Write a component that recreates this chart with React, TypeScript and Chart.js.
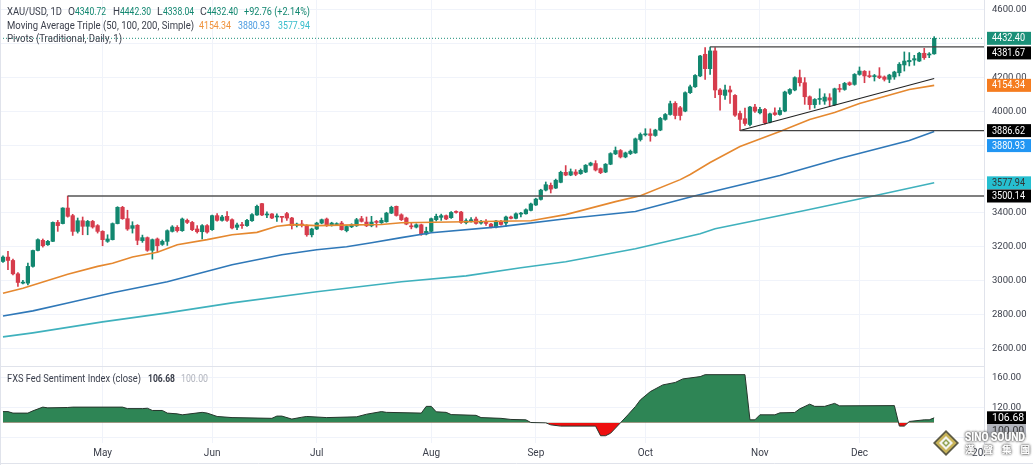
import { useEffect, useRef } from "react";
import { Chart, registerables } from "chart.js";

Chart.register(...registerables);

const FONT = 'Roboto, sans-serif';
const UP = "#12876f";
const DOWN = "#d63c4c";
const TEXT = "#3a3e4a";

// daily candles
const opens = [
  3113, 3139, 3119, 3040, 2985, 2985, 3084, 3178, 3238, 3212, 3232, 3344, 3337, 3429, 3384, 3291, 3354, 3321, 3350, 3325,
  3291, 3232, 3242, 3337, 3433, 3366, 3309, 3327, 3236, 3254, 3179, 3246, 3214, 3232, 3291, 3315, 3295, 3356, 3344, 3305,
  3289, 3325, 3301, 3384, 3356, 3380, 3360, 3315, 3329, 3325, 3354, 3388, 3455, 3388, 3394, 3376, 3378, 3396, 3370, 3327,
  3334, 3325, 3271, 3305, 3340, 3364, 3327, 3331, 3340, 3295, 3318, 3324, 3366, 3346, 3324, 3350, 3342, 3348, 3399, 3439,
  3389, 3370, 3324, 3316, 3330, 3275, 3291, 3360, 3374, 3384, 3372, 3409, 3405, 3342, 3352, 3364, 3340, 3342, 3334, 3316,
  3350, 3340, 3376, 3368, 3393, 3395, 3415, 3447, 3480, 3535, 3563, 3547, 3581, 3640, 3624, 3642, 3632, 3642, 3682, 3692,
  3662, 3642, 3688, 3749, 3769, 3731, 3751, 3755, 3834, 3862, 3868, 3858, 3890, 3953, 3982, 4048, 4022, 4002, 4111, 4146,
  4210, 4338, 4253, 4358, 4127, 4095, 4127, 4095, 3988, 3957, 3923, 4026, 3992, 4012, 3937, 3992, 3982, 4002, 4107, 4127,
  4200, 4170, 4087, 4040, 4071, 4061, 4081, 4040, 4136, 4130, 4170, 4160, 4219, 4237, 4210, 4206, 4210, 4204, 4190, 4204,
  4229, 4275, 4294, 4304, 4298, 4344, 4334, 4340.72,
];
const closes = [
  3139, 3119, 3040, 2989, 2990, 3084, 3178, 3242, 3206, 3232, 3344, 3325, 3429, 3380, 3291, 3354, 3321, 3350, 3317, 3291,
  3242, 3246, 3337, 3433, 3366, 3305, 3325, 3238, 3254, 3179, 3242, 3206, 3232, 3295, 3317, 3295, 3364, 3344, 3301, 3289,
  3325, 3287, 3384, 3356, 3376, 3356, 3311, 3329, 3325, 3356, 3390, 3439, 3388, 3392, 3370, 3380, 3374, 3370, 3325, 3334,
  3329, 3271, 3305, 3340, 3360, 3325, 3340, 3336, 3301, 3320, 3330, 3360, 3350, 3324, 3346, 3344, 3356, 3399, 3433, 3385,
  3360, 3334, 3318, 3330, 3275, 3291, 3366, 3380, 3384, 3364, 3403, 3403, 3344, 3354, 3360, 3338, 3342, 3338, 3316, 3352,
  3332, 3376, 3368, 3395, 3399, 3419, 3453, 3482, 3535, 3567, 3541, 3593, 3640, 3624, 3644, 3628, 3652, 3682, 3695, 3654,
  3638, 3688, 3751, 3769, 3731, 3755, 3765, 3838, 3864, 3868, 3858, 3890, 3959, 3982, 4046, 3976, 3976, 4111, 4146, 4213,
  4328, 4253, 4358, 4127, 4099, 4127, 4115, 3978, 3953, 3929, 4026, 4002, 4012, 3933, 3986, 3982, 4006, 4115, 4130, 4200,
  4170, 4087, 4040, 4071, 4077, 4085, 4067, 4134, 4130, 4166, 4158, 4219, 4239, 4210, 4206, 4210, 4200, 4190, 4215, 4233,
  4279, 4298, 4302, 4312, 4344, 4318, 4340, 4432.4,
];
const highs = [
  3147, 3173, 3127, 3048, 3001, 3103, 3180, 3247, 3246, 3238, 3347, 3356, 3431, 3500, 3392, 3370, 3376, 3356, 3356, 3331,
  3295, 3271, 3341, 3437, 3439, 3416, 3348, 3331, 3269, 3258, 3246, 3252, 3240, 3300, 3325, 3325, 3370, 3364, 3350, 3325,
  3331, 3331, 3388, 3396, 3386, 3408, 3365, 3340, 3344, 3362, 3396, 3447, 3457, 3406, 3396, 3394, 3380, 3404, 3374, 3340,
  3356, 3330, 3310, 3345, 3364, 3370, 3345, 3342, 3350, 3325, 3336, 3368, 3380, 3376, 3380, 3356, 3370, 3404, 3440, 3441,
  3395, 3375, 3340, 3336, 3334, 3316, 3370, 3393, 3393, 3388, 3408, 3413, 3410, 3365, 3372, 3376, 3356, 3360, 3338, 3356,
  3356, 3382, 3381, 3400, 3403, 3425, 3458, 3487, 3540, 3583, 3577, 3600, 3647, 3680, 3660, 3656, 3660, 3686, 3700, 3709,
  3666, 3692, 3756, 3790, 3775, 3760, 3772, 3843, 3873, 3898, 3897, 3895, 3965, 3988, 4061, 4058, 4030, 4116, 4156, 4218,
  4332, 4377, 4381, 4377, 4135, 4156, 4150, 4100, 4002, 4020, 4031, 4042, 4025, 4018, 3990, 4022, 4022, 4120, 4135, 4205,
  4245, 4200, 4092, 4076, 4134, 4105, 4105, 4138, 4160, 4172, 4175, 4224, 4263, 4242, 4239, 4219, 4259, 4210, 4220, 4238,
  4289, 4352, 4348, 4332, 4350, 4373, 4348, 4442.3,
];
const lows = [
  3107, 3064, 3034, 2965, 2981, 2975, 3080, 3175, 3198, 3208, 3230, 3291, 3335, 3375, 3267, 3281, 3271, 3271, 3310, 3281,
  3206, 3226, 3240, 3335, 3362, 3297, 3281, 3212, 3226, 3173, 3127, 3167, 3208, 3208, 3287, 3287, 3291, 3337, 3295, 3281,
  3246, 3281, 3297, 3352, 3352, 3350, 3305, 3301, 3309, 3320, 3350, 3386, 3384, 3372, 3366, 3350, 3346, 3356, 3305, 3317,
  3317, 3262, 3258, 3301, 3336, 3320, 3322, 3325, 3298, 3288, 3313, 3320, 3346, 3319, 3318, 3316, 3338, 3345, 3396, 3381,
  3355, 3330, 3306, 3311, 3268, 3270, 3288, 3352, 3356, 3360, 3368, 3399, 3338, 3335, 3345, 3334, 3334, 3326, 3312, 3312,
  3328, 3320, 3365, 3365, 3376, 3392, 3412, 3444, 3476, 3530, 3518, 3544, 3578, 3620, 3620, 3620, 3628, 3638, 3678, 3648,
  3632, 3638, 3685, 3745, 3725, 3726, 3745, 3752, 3825, 3855, 3824, 3853, 3886, 3948, 3978, 3956, 3949, 3998, 4106, 4142,
  4206, 4190, 4219, 4081, 4008, 4071, 4048, 3970, 3887, 3917, 3915, 3995, 3985, 3925, 3932, 3976, 3978, 3998, 4100, 4122,
  4150, 4042, 4012, 4020, 4042, 4042, 4032, 4035, 4115, 4125, 4153, 4155, 4214, 4170, 4200, 4180, 4194, 4180, 4170, 4190,
  4210, 4239, 4269, 4273, 4295, 4308, 4318, 4338.04,
];

// moving averages, read at the bends of each line
const ma50Idx = [0, 4, 13, 19, 22, 26, 31, 35, 41, 46, 51, 55, 58, 63, 68, 76, 80, 93, 106, 113, 123, 128, 136, 138, 142, 148, 156, 162, 167, 172, 177, 182, 187];
const ma50 = [2925, 2955, 3038, 3084, 3103, 3139, 3167, 3212, 3242, 3271, 3285, 3321, 3331, 3325, 3328, 3332, 3342, 3348, 3354, 3390, 3467, 3502, 3597, 3627, 3698, 3793, 3882, 3953, 3994, 4047, 4089, 4130, 4154.34];
const ma100Idx = [0, 6, 13, 22, 33, 46, 56, 63, 69, 74, 80, 86, 100, 113, 127, 139, 156, 168, 182, 187];
const ma100 = [2791, 2821, 2868, 2928, 2993, 3094, 3153, 3182, 3200, 3224, 3254, 3283, 3319, 3366, 3408, 3502, 3621, 3722, 3828, 3880.93];
const ma200Idx = [0, 6, 20, 33, 46, 63, 80, 93, 104, 113, 127, 140, 143, 161, 175, 187];
const ma200 = [2667, 2691, 2756, 2809, 2868, 2934, 2993, 3028, 3076, 3111, 3188, 3277, 3307, 3414, 3502, 3577.94];

// sentiment pane
const sentIdx = [0, 1, 2, 5, 6, 8, 9, 13, 14, 24, 25, 28, 29, 30, 32, 33, 35, 36, 40, 41, 43, 46, 54, 55, 56, 58, 60, 61, 65, 71, 73, 76, 77, 84, 85, 86, 87, 89, 90, 95, 96, 100, 102, 105, 106, 109, 110, 112, 119, 120, 121, 122, 124, 125.5, 127, 128, 130, 132.5, 135, 136.5, 140, 141, 149, 150, 151, 152, 155, 156, 159, 160, 162, 163, 165, 167, 168, 179, 180, 181, 182, 185, 186, 187];
const sentiment = [115, 115, 113, 113, 116, 121, 120, 120.5, 121, 121, 119, 119, 119.5, 116.5, 116.5, 113, 112, 110.7, 114, 113, 108.5, 107, 106, 109, 109, 105, 107.5, 108.5, 107, 108, 111.5, 115, 114, 113, 122, 122, 114.7, 114, 111, 110, 107, 106, 104.5, 104, 100.4, 100, 97.3, 95.6, 95.6, 82.7, 82.7, 86, 100, 110.7, 121.8, 130.7, 141.8, 150.7, 154, 158.7, 161.8, 164.4, 164.4, 104, 104, 110.7, 110.7, 113.3, 113.8, 118.7, 125, 122, 122, 126, 122.7, 123, 95.6, 95.6, 101.8, 104, 104, 106.68];

// axes
const monthIdx = [20, 42, 63, 86, 107, 129, 152, 172, 196];
const monthLabels = ["May", "Jun", "Jul", "Aug", "Sep", "Oct", "Nov", "Dec", "20."];
const priceTicks = [2600, 2800, 3000, 3200, 3400, 3600, 3800, 4000, 4200, 4400, 4600];
const hiddenPriceTicks = [3600, 3800, 4400];
const sentTicks = [80, 120, 160];

const candleIdx = opens.map((_, i) => i);
const candleColors = opens.map((o, i) => (closes[i] >= o ? UP : DOWN));
const toXY = (xs: number[], ys: number[]) => xs.map((x, i) => ({ x, y: ys[i] }));

const levelLine = (x0: number, x1: number, y0: number, y1: number, color: string, width: number, dash: number[] = []) => ({
  type: "line" as const,
  data: [{ x: x0, y: y0 }, { x: x1, y: y1 }],
  borderColor: color,
  borderWidth: width,
  borderDash: dash,
  pointRadius: 0,
  yAxisID: "y",
  order: 1,
});

const maLine = (xs: number[], ys: number[], color: string) => ({
  type: "line" as const,
  data: toXY(xs, ys),
  borderColor: color,
  borderWidth: 1.6,
  pointRadius: 0,
  yAxisID: "y",
  order: 1,
});

// right-hand price tags; dy nudges the ones that would collide
const priceTags = [
  { v: 4432.4, bg: "#1a8f78", fg: "#fff", dy: 0 },
  { v: 4381.67, bg: "#000", fg: "#fff", dy: 6 },
  { v: 4154.34, bg: "#f57c1f", fg: "#fff", dy: 0 },
  { v: 3886.62, bg: "#000", fg: "#fff", dy: 0 },
  { v: 3880.93, bg: "#2196f3", fg: "#fff", dy: 14 },
  { v: 3577.94, bg: "#26bfd0", fg: "#333", dy: 0 },
  { v: 3500.14, bg: "#000", fg: "#fff", dy: 0 },
];
const sentTags = [
  { v: 106.68, bg: "#000", fg: "#fff", dy: 0 },
  { v: 100, bg: "#b2b5be", fg: "#333", dy: 8 },
];

// text, x, y, colour, width it has to fit, weight
const textRuns: [string, number, number, string, number, string?][] = [
  ["XAU/USD, 1D", 7, 12, TEXT, 55],
  ["O", 68, 12, TEXT, 7],
  ["4340.72", 75, 12, UP, 31],
  ["H", 113, 12, TEXT, 7],
  ["4442.30", 120, 12, UP, 31],
  ["L", 157, 12, TEXT, 6],
  ["4338.04", 163, 12, UP, 31],
  ["C", 200, 12, TEXT, 7],
  ["4432.40", 207, 12, UP, 31],
  ["+92.76 (+2.14%)", 244, 12, UP, 66],
  ["Moving Average Triple (50, 100, 200, Simple)", 7, 26, TEXT, 187],
  ["4154.34", 199, 26, "#f0923b", 32],
  ["3880.93", 238, 26, "#4a9be0", 32],
  ["3577.94", 278, 26, "#35bccb", 32],
  ["Pivots (Traditional, Daily, 1)", 7, 39, TEXT, 115],
  ["FXS Fed Sentiment Index (close)", 7, 379, TEXT, 134],
  ["106.68", 148, 379, TEXT, 27, "bold"],
  ["100.00", 181, 379, "#b2b5be", 27],
];

const noAxisPadding = (scale: any) => {
  scale.paddingLeft = 0;
  scale.paddingRight = 0;
  scale.paddingTop = 0;
  scale.paddingBottom = 0;
};

const overlayPlugin = {
  id: "overlay",
  afterDraw(chart: any) {
    const { ctx, chartArea, scales, width, height } = chart;
    ctx.save();

    // pane separator and the faint frame
    ctx.strokeStyle = "#e0e3eb";
    ctx.lineWidth = 1;
    ctx.beginPath();
    ctx.moveTo(0, scales.y2.top + 0.5);
    ctx.lineTo(chartArea.right, scales.y2.top + 0.5);
    ctx.moveTo(0.5, 0);
    ctx.lineTo(0.5, height);
    ctx.moveTo(0, height - 1.5);
    ctx.lineTo(width, height - 1.5);
    ctx.stroke();

    ctx.textBaseline = "middle";
    ctx.textAlign = "left";
    for (const [text, x, y, color, w, weight] of textRuns) {
      ctx.font = `${weight ?? "normal"} 10.5px ${FONT}`;
      ctx.fillStyle = color;
      ctx.fillText(text, x, y, w);
    }

    ctx.font = `10.5px ${FONT}`;
    const drawTag = (scale: any, t: { v: number; bg: string; fg: string; dy: number }, w: number) => {
      const y = scale.getPixelForValue(t.v) + t.dy;
      ctx.fillStyle = t.bg;
      ctx.fillRect(987, y - 6.5, w, 13);
      ctx.fillStyle = t.fg;
      ctx.fillText(t.v.toFixed(2), 992, y + 0.5, 33);
    };
    priceTags.forEach((t) => drawTag(scales.y, t, 44));
    sentTags.forEach((t) => drawTag(scales.y2, t, 39));

    // watermark
    const cx = 946;
    const cy = 443;
    const diamond = (r: number, fill: string) => {
      ctx.fillStyle = fill;
      ctx.beginPath();
      ctx.moveTo(cx, cy - r);
      ctx.lineTo(cx + r, cy);
      ctx.lineTo(cx, cy + r);
      ctx.lineTo(cx - r, cy);
      ctx.closePath();
      ctx.fill();
    };
    diamond(13, "#5c5a45");
    diamond(10.5, "#c9b458");
    diamond(7, "#f4f4ee");
    diamond(4, "#8ea24f");
    diamond(2, "#f4f4ee");

    ctx.textAlign = "left";
    ctx.shadowColor = "#6d6d6d";
    ctx.shadowBlur = 2.5;
    ctx.fillStyle = "#fff";
    ctx.font = `bold 12px ${FONT}`;
    for (let k = 0; k < 3; k++) ctx.fillText("SINO SOUND", 965, 438, 60);
    ctx.font = `bold 9.5px "Noto Sans CJK TC", ${FONT}`;
    for (let k = 0; k < 3; k++) {
      ["漢", "聲", "集", "團"].forEach((ch, i) => ctx.fillText(ch, 965 + i * 18.5, 449));
    }
    ctx.restore();
  },
};

export default function App() {
  const canvasRef = useRef<HTMLCanvasElement | null>(null);

  useEffect(() => {
    document.body.style.margin = "0";
    const canvas = canvasRef.current;
    if (!canvas) return;

    const chart = new Chart(canvas, {
      data: {
        datasets: [
          levelLine(-0.6, 197, 4432.4, 4432.4, "#1a8f78", 1, [1, 2]),
          levelLine(13, 197, 3500.14, 3500.14, "#555", 1.5),
          levelLine(142, 197, 4381.67, 4381.67, "#444", 1.3),
          levelLine(148, 197, 3886.62, 3886.62, "#444", 1.3),
          levelLine(148, 187, 3887, 4195, "#222", 1.1),
          maLine(ma50Idx, ma50, "#e5882f"),
          maLine(ma100Idx, ma100, "#2f78b8"),
          maLine(ma200Idx, ma200, "#3fb1bd"),
          {
            type: "bar",
            data: candleIdx.map((i) => ({ x: i, y: [opens[i], closes[i]] })),
            backgroundColor: candleColors,
            barThickness: 3.6,
            minBarLength: 1,
            grouped: false,
            yAxisID: "y",
            order: 2,
          },
          {
            type: "bar",
            data: candleIdx.map((i) => ({ x: i, y: [lows[i], highs[i]] })),
            backgroundColor: candleColors,
            barThickness: 1,
            grouped: false,
            yAxisID: "y",
            order: 3,
          },
          {
            type: "line",
            data: toXY(sentIdx, sentiment),
            borderColor: "#26352c",
            borderWidth: 1,
            pointRadius: 0,
            fill: { target: { value: 100 }, above: "#2e8555", below: "#ee0f0f" },
            yAxisID: "y2",
            order: 1,
          },
        ],
      } as any,
      options: {
        responsive: false,
        animation: false,
        events: [],
        layout: { padding: 0 },
        plugins: { legend: { display: false }, tooltip: { enabled: false } },
        scales: {
          x: {
            type: "linear",
            offset: false, // the bar controller turns this on by default
            min: -0.6,
            max: 197,
            afterBuildTicks: (scale: any) => {
              scale.ticks = monthIdx.map((value) => ({ value }));
            },
            afterFit: (scale: any) => {
              scale.height = 22;
              noAxisPadding(scale);
            },
            ticks: {
              autoSkip: false,
              maxRotation: 0,
              padding: 4,
              color: TEXT,
              font: { family: FONT, size: 10 },
              callback: (v: any) => monthLabels[monthIdx.indexOf(Number(v))] ?? "",
            },
            grid: {
              offset: false,
              drawTicks: false,
              color: (ctx: any) => (ctx.tick?.value === 196 ? "transparent" : "#f0f3fa"),
            },
            border: { display: false },
          },
          y: {
            type: "linear",
            position: "right",
            stack: "panes",
            stackWeight: 366,
            min: 2495,
            max: 4659,
            afterBuildTicks: (scale: any) => {
              scale.ticks = priceTicks.map((value) => ({ value }));
            },
            afterFit: (scale: any) => {
              scale.width = 49;
              noAxisPadding(scale);
            },
            ticks: {
              padding: 8,
              color: TEXT,
              font: { family: FONT, size: 9.5 },
              callback: (v: any) => (hiddenPriceTicks.includes(Number(v)) ? "" : Number(v).toFixed(2)),
            },
            grid: { drawTicks: false, color: "#f0f3fa" },
            border: { color: "#e0e3eb" },
          },
          y2: {
            type: "linear",
            position: "right",
            stack: "panes",
            stackWeight: 77,
            min: 73,
            max: 176,
            afterBuildTicks: (scale: any) => {
              scale.ticks = sentTicks.map((value) => ({ value }));
            },
            afterFit: (scale: any) => {
              scale.width = 49;
              noAxisPadding(scale);
            },
            ticks: {
              padding: 8,
              color: TEXT,
              font: { family: FONT, size: 9.5 },
              callback: (v: any) => (Number(v) === 80 ? "" : Number(v).toFixed(2)),
            },
            grid: { drawTicks: false, color: "#f0f3fa" },
            border: { color: "#e0e3eb" },
          },
        },
      } as any,
      plugins: [overlayPlugin],
    });

    return () => chart.destroy();
  }, []);

  return <canvas ref={canvasRef} width={1033} height={465} style={{ display: "block" }} />;
}
